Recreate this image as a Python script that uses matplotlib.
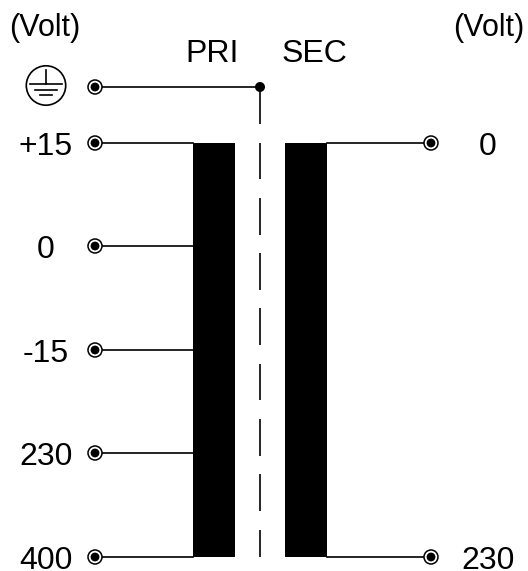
import matplotlib
matplotlib.use('Agg')
import matplotlib.pyplot as plt
from matplotlib.patches import Circle, Rectangle

# Terminal labels and where they sit down the winding (pixels from top)
pri_labels = ['+15', '0', '-15', '230', '400']
pri_y = [143, 246, 350, 453, 557]
sec_labels = ['0', '230']
sec_y = [143, 557]
ground_y = 87
core_dashes = [(87, 124), (143, 179), (198, 235), (253, 290), (308, 345),
               (364, 400), (419, 456), (474, 511), (530, 557)]

TERM_L = 95
TERM_R = 431
CORE_X = 260
LW = 1.2


def terminal(ax, x, y):
    # ring with a dot in the middle
    ax.add_patch(Circle((x, y), 7, fc='white', ec='black', lw=1.1, zorder=3))
    ax.add_patch(Circle((x, y), 4.4, fc='black', ec='none', zorder=4))


def main():
    plt.rcParams['font.family'] = ['Liberation Sans', 'DejaVu Sans']
    fig = plt.figure(figsize=(5.28, 5.71), dpi=100)
    ax = fig.add_axes([0, 0, 1, 1])
    ax.set_xlim(0, 528)
    ax.set_ylim(571, 0)
    ax.axis('off')

    # windings
    ax.add_patch(Rectangle((193, 143), 42, 414, fc='black', ec='none'))
    ax.add_patch(Rectangle((285, 143), 42, 414, fc='black', ec='none'))

    # leads
    for y in pri_y:
        ax.plot([TERM_L, 193], [y, y], color='black', lw=LW)
        terminal(ax, TERM_L, y)
    for y in sec_y:
        ax.plot([327, TERM_R], [y, y], color='black', lw=LW)
        terminal(ax, TERM_R, y)
    ax.plot([TERM_L, CORE_X], [ground_y, ground_y], color='black', lw=LW)
    terminal(ax, TERM_L, ground_y)
    ax.add_patch(Circle((CORE_X, ground_y), 5, fc='black', ec='none', zorder=4))

    # core shield
    for top, bottom in core_dashes:
        ax.plot([CORE_X, CORE_X], [top, bottom], color='black', lw=LW,
                solid_capstyle='butt')

    # earth symbol
    ax.add_patch(Circle((46, 85.5), 19.7, fc='white', ec='black', lw=LW))
    ax.plot([46, 46], [70, 84], color='black', lw=LW)
    ax.plot([29.5, 62], [84, 84], color='black', lw=LW)
    ax.plot([35, 57], [89.5, 89.5], color='black', lw=LW)
    ax.plot([40, 52], [95, 95], color='black', lw=LW)

    # text, placed on the baseline so the descent stays inside the figure
    fs = 23
    ax.text(45, 36, '(Volt)', fontsize=22, ha='center', va='baseline')
    ax.text(489, 36, '(Volt)', fontsize=22, ha='center', va='baseline')
    ax.text(212, 62, 'PRI', fontsize=fs, ha='center', va='baseline')
    ax.text(314, 62, 'SEC', fontsize=fs, ha='center', va='baseline')
    for y, lab in zip(pri_y, pri_labels):
        ax.text(46, y + 12, lab, fontsize=fs, ha='center', va='baseline')
    ax.text(488, sec_y[0] + 12, sec_labels[0], fontsize=fs, ha='center', va='baseline')
    ax.text(488, sec_y[1] + 12, sec_labels[1], fontsize=fs, ha='center', va='baseline')

    fig.savefig('out.png', dpi=100)


if __name__ == '__main__':
    main()
